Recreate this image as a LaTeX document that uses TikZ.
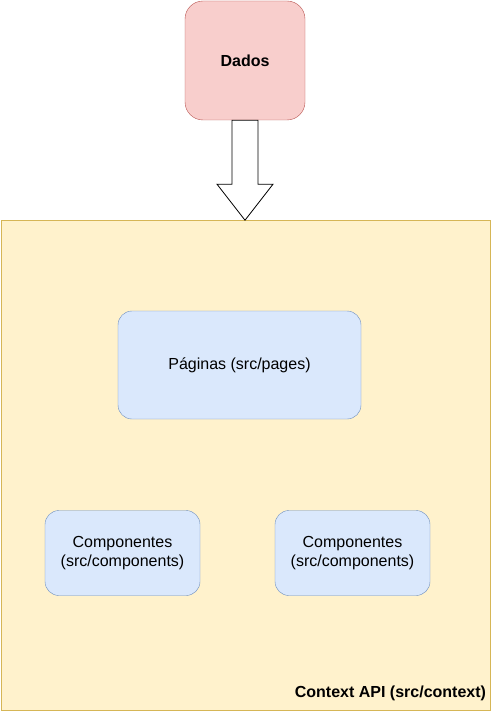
\documentclass[tikz,border=0pt]{standalone}
\usepackage{fontspec}
\setmainfont{Liberation Sans}
\definecolor{redfill}{HTML}{F8CECC}
\definecolor{redline}{HTML}{B85450}
\definecolor{yellowfill}{HTML}{FFF2CC}
\definecolor{yellowline}{HTML}{D6B656}
\definecolor{bluefill}{HTML}{DAE8FC}
\definecolor{blueline}{HTML}{6C8EBF}
\tikzset{
    box/.style={draw=blueline, fill=bluefill, rounded corners=14pt, align=center,
        font=\fontsize{16}{19.5}\selectfont, inner sep=0pt},
}
\begin{document}
\begin{tikzpicture}[x=1pt, y=-1pt]
        \useasboundingbox (0,0) rectangle (497,711);

        % Define the context area
        \node[draw=yellowline, fill=yellowfill, minimum width=489pt, minimum height=490pt,
            inner sep=0pt] (ctx) at (245.5,465) {};
        \node[anchor=base east, font=\bfseries\fontsize{16}{19}\selectfont, inner sep=0pt]
            (ctxlabel) at ([xshift=-4pt, yshift=13pt]ctx.south east) {Context API (src/context)};

        % Define the data
        \node[draw=redline, fill=redfill, rounded corners=18pt, minimum width=120pt,
            minimum height=119pt, font=\bfseries\fontsize{16}{19}\selectfont] (dados) at (245,60.5) {Dados};

        % Define the pages and components
        \node[box, minimum width=243pt, minimum height=108pt] (paginas) at (239.5,365) {Páginas (src/pages)};
        \node[box, minimum width=155pt, minimum height=85pt] (comp1) at (122.5,553) {Componentes\\(src/components)};
        \node[box, minimum width=155pt, minimum height=85pt] (comp2) at (352.5,553) {Componentes\\(src/components)};

        % Draw arrow
        \draw[fill=white, line width=0.8pt, shift={(dados.south)}]
            (-13,0) -- (-13,64) -- (-28,64) -- (0,100) -- (28,64) -- (13,64) -- (13,0) -- cycle;
    \end{tikzpicture}
\end{document}
